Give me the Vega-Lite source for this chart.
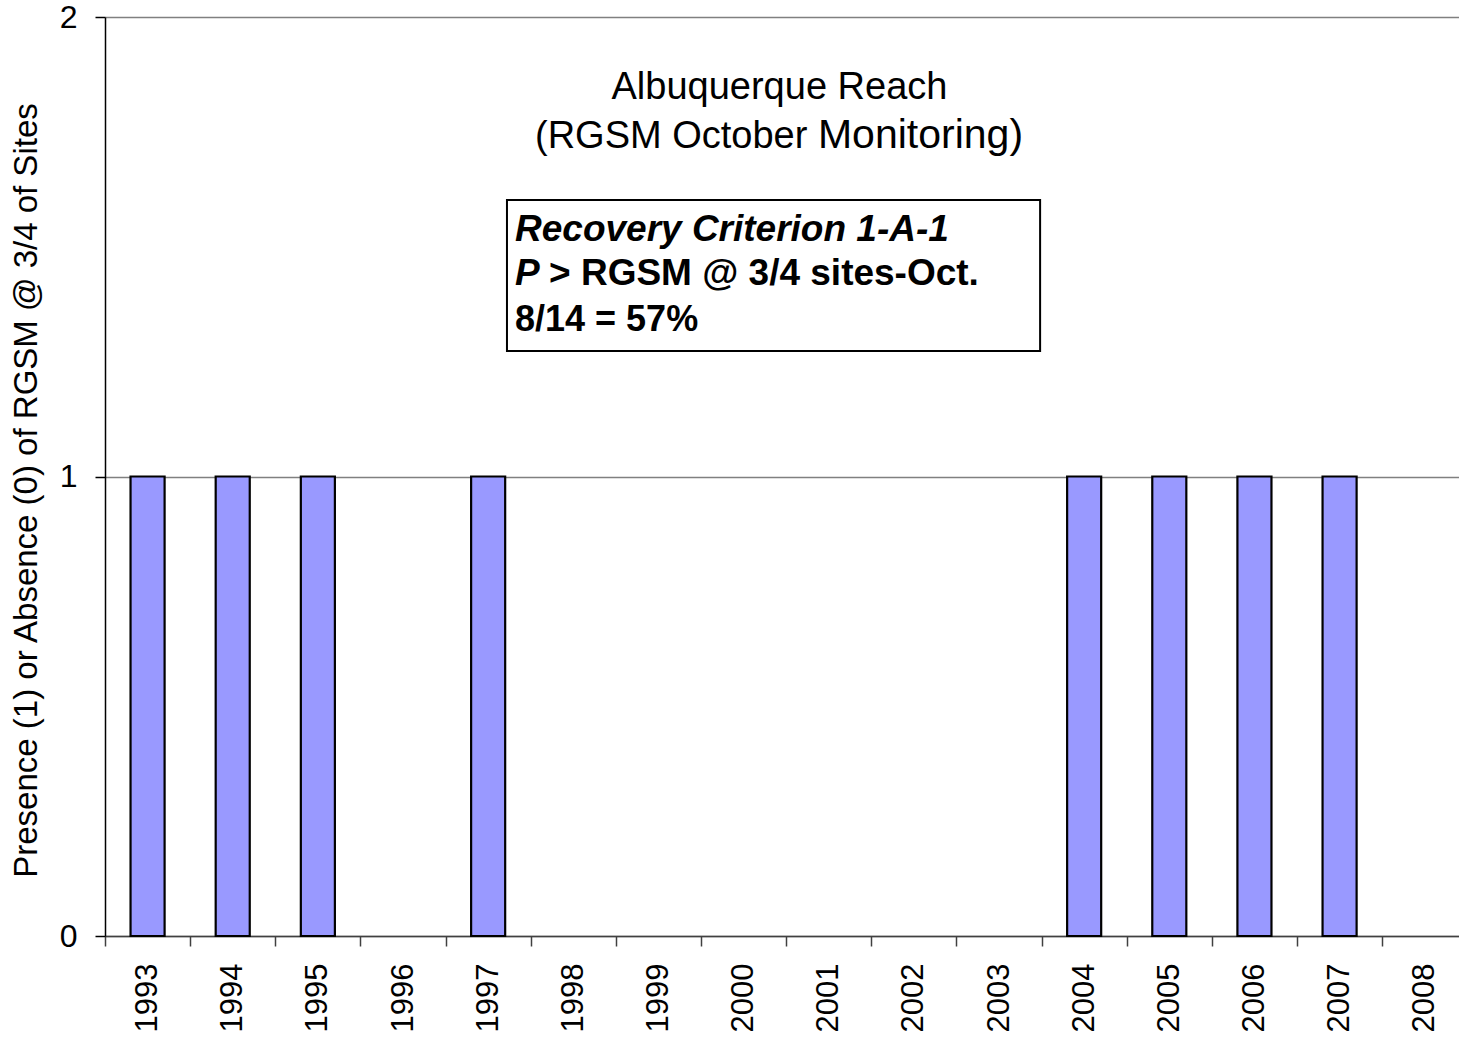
{
  "$schema": "https://vega.github.io/schema/vega-lite/v6.json",
  "width": 1354,
  "height": 919,
  "autosize": {"type": "none"},
  "padding": {"left": 105, "top": 17, "right": 0, "bottom": 109},
  "background": "white",
  "config": {"view": {"stroke": null}, "font": "Liberation Sans", "text": {"font": "Liberation Sans", "color": "black"}},
  "datasets": {
    "years": [
      {"year": "1993", "presence": 1},
      {"year": "1994", "presence": 1},
      {"year": "1995", "presence": 1},
      {"year": "1996", "presence": 0},
      {"year": "1997", "presence": 1},
      {"year": "1998", "presence": 0},
      {"year": "1999", "presence": 0},
      {"year": "2000", "presence": 0},
      {"year": "2001", "presence": 0},
      {"year": "2002", "presence": 0},
      {"year": "2003", "presence": 0},
      {"year": "2004", "presence": 1},
      {"year": "2005", "presence": 1},
      {"year": "2006", "presence": 1},
      {"year": "2007", "presence": 1},
      {"year": "2008", "presence": 0}
    ]
  },
  "layer": [
    {
      "data": {"name": "years"},
      "mark": {"type": "bar", "fill": "#9999FF", "stroke": "black", "strokeWidth": 2.2},
      "encoding": {
        "x": {
          "field": "year",
          "type": "ordinal",
          "scale": {"paddingInner": 0.6, "paddingOuter": 0.3, "range": [0, 1362.3]},
          "axis": {
            "title": null,
            "labelAngle": -90,
            "labelFontSize": 31,
            "labelFont": "Liberation Sans",
            "labelColor": "black",
            "labelPadding": 17,
            "tickOffset": -42.57,
            "labelOffset": 42.57,
            "tickSize": 10,
            "tickColor": "#404040",
            "tickWidth": 1.5,
            "domainColor": "#404040",
            "domainWidth": 1.5,
            "grid": false
          }
        },
        "y": {
          "field": "presence",
          "type": "quantitative",
          "scale": {"domain": [0, 2], "nice": false},
          "axis": {
            "title": "Presence (1) or Absence (0) of RGSM @ 3/4 of Sites",
            "titleFontSize": 33,
            "titleFont": "Liberation Sans",
            "titleFontWeight": "normal",
            "titleColor": "black",
            "titleAngle": -90,
            "titleAlign": "center",
            "titleBaseline": "bottom",
            "titleX": -62,
            "titleY": 473,
            "tickCount": 2,
            "format": "d",
            "labelOverlap": false,
            "labelFontSize": 32,
            "labelFont": "Liberation Sans",
            "labelColor": "black",
            "labelPadding": 18,
            "tickSize": 10,
            "tickColor": "black",
            "tickWidth": 1.5,
            "domainColor": "black",
            "domainWidth": 1.5,
            "grid": true,
            "gridColor": "#808080",
            "gridWidth": 1.5
          }
        },
        "strokeOpacity": {"condition": {"test": "datum.presence > 0", "value": 1}, "value": 0}
      }
    },
    {
      "data": {"values": [{}]},
      "layer": [
        {
          "mark": {"type": "rect", "fill": "white", "stroke": "black", "strokeWidth": 2},
          "encoding": {
            "x": {"datum": 4.75, "type": "quantitative", "scale": {"domain": [0, 16], "nice": false, "zero": false}, "axis": null},
            "x2": {"datum": 11.05},
            "y": {"datum": 1.6017, "type": "quantitative", "scale": {"domain": [0, 2], "nice": false, "zero": false}, "axis": null},
            "y2": {"datum": 1.2731}
          }
        },
        {
          "mark": {"type": "text", "text": "Albuquerque Reach", "fontSize": 38, "align": "center", "baseline": "alphabetic"},
          "encoding": {
            "x": {"datum": 7.97, "type": "quantitative", "axis": null},
            "y": {"datum": 1.8215, "type": "quantitative", "axis": null}
          }
        },
        {
          "mark": {"type": "text", "text": "(RGSM October", "fontSize": 38, "align": "left", "baseline": "alphabetic"},
          "encoding": {
            "x": {"datum": 5.081, "type": "quantitative", "axis": null},
            "y": {"datum": 1.7149, "type": "quantitative", "axis": null}
          }
        },
        {
          "mark": {"type": "text", "text": "Monitoring)", "fontSize": 41, "align": "left", "baseline": "alphabetic"},
          "encoding": {
            "x": {"datum": 8.425, "type": "quantitative", "axis": null},
            "y": {"datum": 1.7149, "type": "quantitative", "axis": null}
          }
        },
        {
          "mark": {"type": "text", "text": "Recovery Criterion 1-A-1", "fontSize": 37, "fontWeight": "bold", "fontStyle": "italic", "align": "left", "baseline": "alphabetic"},
          "encoding": {
            "x": {"datum": 4.845, "type": "quantitative", "axis": null},
            "y": {"datum": 1.5125, "type": "quantitative", "axis": null}
          }
        },
        {
          "mark": {"type": "text", "text": "P", "fontSize": 37, "fontWeight": "bold", "fontStyle": "italic", "align": "left", "baseline": "alphabetic"},
          "encoding": {
            "x": {"datum": 4.845, "type": "quantitative", "axis": null},
            "y": {"datum": 1.4168, "type": "quantitative", "axis": null}
          }
        },
        {
          "mark": {"type": "text", "text": "> RGSM @ 3/4 sites-Oct.", "fontSize": 37, "fontWeight": "bold", "align": "left", "baseline": "alphabetic"},
          "encoding": {
            "x": {"datum": 5.247, "type": "quantitative", "axis": null},
            "y": {"datum": 1.4168, "type": "quantitative", "axis": null}
          }
        },
        {
          "mark": {"type": "text", "text": "8/14 = 57%", "fontSize": 36, "fontWeight": "bold", "align": "left", "baseline": "alphabetic"},
          "encoding": {
            "x": {"datum": 4.845, "type": "quantitative", "axis": null},
            "y": {"datum": 1.3166, "type": "quantitative", "axis": null}
          }
        }
      ]
    }
  ],
  "resolve": {"scale": {"x": "independent", "y": "independent"}}
}
